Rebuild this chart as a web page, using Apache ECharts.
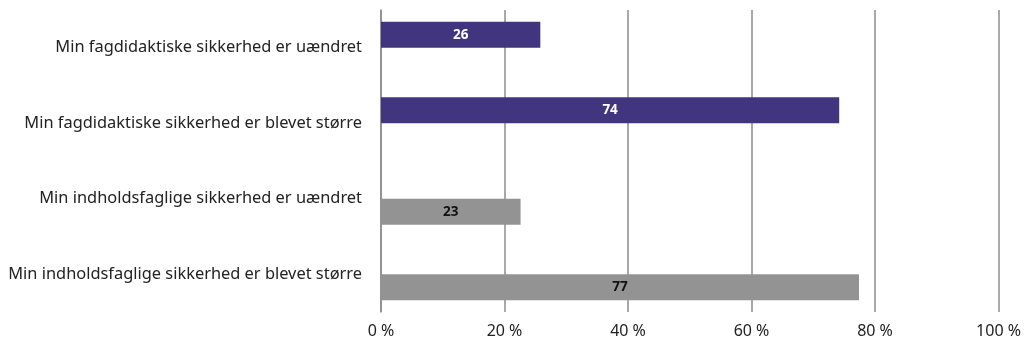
<!DOCTYPE html>
<html>
<head>
<meta charset="utf-8">
<script src="https://cdn.jsdelivr.net/npm/echarts@6/dist/echarts.min.js"></script>
<style>
html,body{margin:0;padding:0;background:#fff;}
#chart{width:1024px;height:345px;}
</style>
</head>
<body>
<div id="chart"></div>
<script>
const categories = [
  'Min fagdidaktiske sikkerhed er uændret',
  'Min fagdidaktiske sikkerhed er blevet større',
  'Min indholdsfaglige sikkerhed er uændret',
  'Min indholdsfaglige sikkerhed er blevet større'
];
const fagdidaktiskeValues = [25.8, 74.2, '-', '-'];
const indholdsfagligeValues = ['-', '-', 22.6, 77.4];
const xTicks = [0, 20, 40, 60, 80, 100];

const FONT = 'Noto Sans';
const chart = echarts.init(document.getElementById('chart'));
const roundLabel = p => String(Math.round(p.value));
chart.setOption({
  animation: false,
  grid: { left: 381, right: 25, top: 10, bottom: 33, containLabel: false },
  xAxis: {
    type: 'value', min: xTicks[0], max: xTicks[xTicks.length - 1], interval: 20,
    axisLine: { show: false }, axisTick: { show: false },
    axisLabel: { formatter: '{value} %', color: '#222', fontSize: 16, fontFamily: FONT, margin: 11 },
    splitLine: { show: true, lineStyle: { color: '#8c8c8c', width: 1.5 } }
  },
  yAxis: {
    type: 'category', inverse: true, data: categories,
    axisLine: { show: true, lineStyle: { color: '#8c8c8c', width: 1.5 } },
    axisTick: { show: false },
    axisLabel: { color: '#222', fontSize: 16.4, fontFamily: FONT, margin: 19 }
  },
  series: [
    {
      type: 'bar', data: fagdidaktiskeValues, barWidth: 26, barGap: '0%',
      itemStyle: { color: '#42357f' },
      label: { show: true, position: 'inside', formatter: roundLabel, color: '#fff', fontWeight: 'bold', fontSize: 13.5, fontFamily: FONT }
    },
    {
      type: 'bar', data: indholdsfagligeValues, barWidth: 26, barGap: '0%',
      itemStyle: { color: '#939393' },
      label: { show: true, position: 'inside', formatter: roundLabel, color: '#111', fontWeight: 'bold', fontSize: 13.5, fontFamily: FONT }
    }
  ]
});
</script>
</body>
</html>
